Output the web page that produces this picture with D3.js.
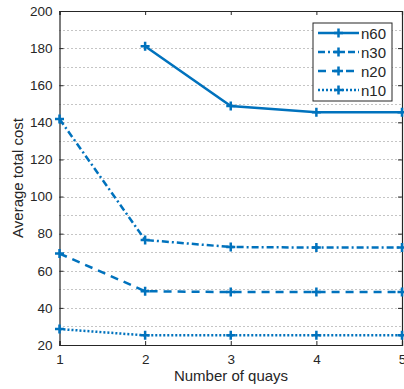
<!DOCTYPE html>
<html>
<head>
<meta charset="utf-8">
<script src="https://cdn.jsdelivr.net/npm/d3@7"></script>
<style>
  body { margin: 0; background: #fff; }
  text { font-family: "Liberation Sans", Arial, sans-serif; fill: #262626; }
</style>
</head>
<body>
<div id="chart"></div>
<script>
// data
const quays = [1, 2, 3, 4, 5];
const n60 = [null, 181, 148.8, 145.5, 145.5];
const n30 = [141.8, 76.6, 72.8, 72.5, 72.5];
const n20 = [69.3, 49, 48.5, 48.5, 48.5];
const n10 = [28.6, 25.2, 25.2, 25.2, 25.2];
const seriesNames = ['n60', 'n30', 'n20', 'n10'];
const yTicks = [20, 40, 60, 80, 100, 120, 140, 160, 180, 200];

const W = 404, H = 389;
const mLeft = 59.5, mRight = 402, mTop = 11, mBottom = 345;
const blue = '#0072BD';
const dashes = { n60: null, n30: '7,3,2,3', n20: '8,6', n10: '2,2' };

let svg = d3.select('#chart').append('svg').attr('width', W).attr('height', H);

let x = d3.scaleLinear().domain([1, 5]).range([mLeft, mRight]);
let y = d3.scaleLinear().domain([20, 200]).range([mBottom, mTop]);

// dotted horizontal grid every 10
let grid = d3.range(30, 200, 10);
svg.append('g').selectAll('line').data(grid).enter().append('line')
  .attr('x1', mLeft).attr('x2', mRight)
  .attr('y1', d => Math.round(y(d)) + 0.5).attr('y2', d => Math.round(y(d)) + 0.5)
  .attr('stroke', '#8a8a8a').attr('stroke-width', 1).attr('stroke-dasharray', '1,3');

// axes
let axL = d3.axisLeft(y).tickValues(yTicks).tickSize(-4).tickPadding(7);
let axR = d3.axisRight(y).tickValues(yTicks).tickSize(-4).tickFormat('');
let axB = d3.axisBottom(x).tickValues(quays).tickSize(-4).tickPadding(9).tickFormat(d3.format('d'));
let axT = d3.axisTop(x).tickValues(quays).tickSize(-4).tickFormat('');

function style(g) {
  g.selectAll('path, line').attr('stroke', '#262626');
  g.selectAll('text').attr('font-size', 13.5).attr('fill', '#262626')
    .attr('font-family', '"Liberation Sans", Arial, sans-serif');
}
svg.append('g').attr('transform', `translate(${mLeft},0)`).call(axL).call(style);
svg.append('g').attr('transform', `translate(${mRight},0)`).call(axR).call(style);
svg.append('g').attr('transform', `translate(0,${mBottom})`).call(axB).call(style);
svg.append('g').attr('transform', `translate(0,${mTop})`).call(axT).call(style);
svg.selectAll('.domain').attr('stroke-width', 1.2);

// series
let data = { n60, n30, n20, n10 };
let line = d3.line().defined(d => d[1] != null).x(d => x(d[0])).y(d => y(d[1]));

function plus(g, cx, cy) {
  g.append('path')
    .attr('d', `M${cx - 4.5},${cy}H${cx + 4.5}M${cx},${cy - 4.5}V${cy + 4.5}`)
    .attr('stroke', blue).attr('stroke-width', 2.5);
}

seriesNames.forEach(name => {
  let pts = quays.map((q, i) => [q, data[name][i]]);
  svg.append('path').datum(pts).attr('d', line)
    .attr('fill', 'none').attr('stroke', blue).attr('stroke-width', 2.5)
    .attr('stroke-dasharray', dashes[name]);
  let g = svg.append('g');
  pts.filter(d => d[1] != null).forEach(d => plus(g, x(d[0]), y(d[1])));
});

// legend
let lg = svg.append('g');
lg.append('rect').attr('x', 313).attr('y', 23).attr('width', 79).attr('height', 78)
  .attr('fill', '#fff').attr('stroke', '#262626').attr('stroke-width', 1);
seriesNames.forEach((name, i) => {
  let ly = 33 + i * 19;
  lg.append('line').attr('x1', 318).attr('x2', 359).attr('y1', ly).attr('y2', ly)
    .attr('stroke', blue).attr('stroke-width', 2.5).attr('stroke-dasharray', dashes[name]);
  plus(lg, 338.5, ly);
  lg.append('text').attr('x', 361).attr('y', ly + 5.5).attr('font-size', 15).text(name);
});

// axis labels
svg.append('text').attr('x', 231).attr('y', 381)
  .attr('text-anchor', 'middle').attr('font-size', 15).text('Number of quays');
svg.append('text').attr('transform', `translate(23,${(mTop + mBottom) / 2}) rotate(-90)`)
  .attr('text-anchor', 'middle').attr('font-size', 15).text('Average total cost');
</script>
</body>
</html>
